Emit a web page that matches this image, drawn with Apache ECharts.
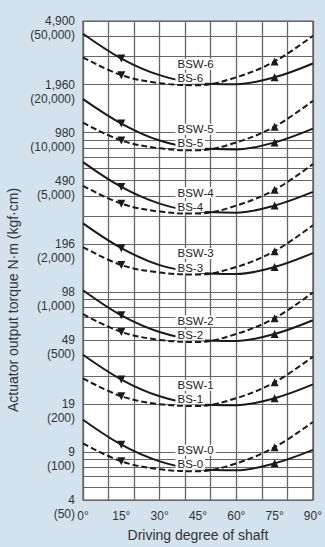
<!DOCTYPE html>
<html><head><meta charset="utf-8">
<script src="https://cdn.jsdelivr.net/npm/echarts@6/dist/echarts.min.js"></script>
<style>html,body{margin:0;padding:0;background:#d4e2ee}#c{width:325px;height:547px}</style>
</head><body><div id="c"></div>
<script>
// ---- data ----
const degrees = [0, 15, 30, 45, 60, 75, 90];
const xTickLabels = [0, 15, 30, 45, 60, 75, 90];
const xGridValues = [0, 10, 20, 30, 40, 50, 60, 70, 80, 90];
const yLabelValues = [50, 100, 200, 500, 1000, 2000, 5000, 10000, 20000, 50000];
const yLabelNm = ['4', '9', '19', '49', '98', '196', '490', '980', '1,960', '4,900'];
const yLabelKgf = ['(50)', '(100)', '(200)', '(500)', '(1,000)', '(2,000)', '(5,000)', '(10,000)', '(20,000)', '(50,000)'];
const yGridValues = [50, 60, 70, 80, 90, 100, 200, 300, 400, 500, 600, 700, 800, 900,
  1000, 2000, 3000, 4000, 5000, 6000, 7000, 8000, 9000, 10000, 20000, 30000, 40000, 50000];
const sizes = ['0', '1', '2', '3', '4', '5', '6'];
// solid = BSW-n, dashed = BS-n (kgf·cm)
const bsw0 = [159, 111, 87.3, 77.9, 76.7, 84.8, 103];
const bs0  = [113, 87.3, 77.9, 75.6, 84.8, 107, 154];
const bsw1 = [406, 284, 223, 199, 196, 217, 265];
const bs1  = [289, 223, 199, 194, 217, 273, 395];
const bsw2 = [1030, 717, 564, 503, 495, 548, 668];
const bs2  = [729, 564, 503, 488, 548, 688, 997];
const bsw3 = [2700, 1890, 1480, 1330, 1300, 1440, 1760];
const bs3  = [1920, 1480, 1330, 1290, 1440, 1810, 2630];
const bsw4 = [6530, 4570, 3590, 3200, 3150, 3490, 4250];
const bs4  = [4640, 3590, 3200, 3110, 3490, 4380, 6350];
const bsw5 = [16200, 11400, 8920, 7970, 7840, 8680, 10600];
const bs5  = [11550, 8920, 7970, 7740, 8680, 10900, 15800];
const bsw6 = [41600, 29100, 22900, 20400, 20100, 22200, 27100];
const bs6  = [29600, 22900, 20400, 19800, 22200, 27900, 40400];
const bswAll = [bsw0, bsw1, bsw2, bsw3, bsw4, bsw5, bsw6];
const bsAll = [bs0, bs1, bs2, bs3, bs4, bs5, bs6];

// ---- chart ----
const FONT = '"Liberation Sans", Arial, sans-serif';
const TXT = '#333';
function pairs(arr) { return degrees.map((d, i) => [d, arr[i]]); }
function markSym(v, p) { return (p.dataIndex === 1 || p.dataIndex === 5) ? 'triangle' : 'none'; }
function markRot(v, p) { return p.dataIndex === 1 ? 180 : 0; }
function tagLabel(text, coordVal, dy) {
  return {
    symbol: 'rect', symbolSize: 1, silent: true,
    itemStyle: { color: 'rgba(0,0,0,0)' },
    label: { show: true, position: 'right', distance: 0, offset: [0, dy], formatter: text,
      fontFamily: FONT, fontSize: 11.5, color: '#222', backgroundColor: '#fff', padding: [0, 2], lineHeight: 11 },
    data: [{ coord: [36, coordVal] }]
  };
}
const series = [];
sizes.forEach((s, i) => {
  series.push({
    name: 'BSW-' + s, type: 'line', smooth: 0.35, data: pairs(bswAll[i]),
    symbol: markSym, symbolRotate: markRot, symbolSize: 8, showSymbol: true,
    itemStyle: { color: '#1a1a1a' },
    lineStyle: { color: '#1a1a1a', width: 2 },
    markPoint: tagLabel('BSW-' + s, bswAll[i][3], -19), z: 3
  });
  series.push({
    name: 'BS-' + s, type: 'line', smooth: 0.35, data: pairs(bsAll[i]),
    symbol: markSym, symbolRotate: markRot, symbolSize: 8, showSymbol: true,
    itemStyle: { color: '#1a1a1a' },
    lineStyle: { color: '#1a1a1a', width: 2, type: [6, 3] },
    markPoint: tagLabel('BS-' + s, bsAll[i][3], -7), z: 3
  });
});
function yLabel(v) {
  const k = yLabelValues.findIndex(x => Math.abs(Math.log10(x) - Math.log10(v)) < 1e-6);
  return k < 0 ? '' : '\n' + yLabelNm[k] + '\n' + yLabelKgf[k];
}
const chart = echarts.init(document.getElementById('c'), null, { renderer: 'svg' });
chart.setOption({
  animation: false,
  backgroundColor: '#d4e2ee',
  grid: { left: 83, right: 8, top: 15, bottom: 47, show: true, backgroundColor: '#fff', borderColor: '#555', borderWidth: 1.2 },
  xAxis: {
    type: 'value', min: 0, max: 90,
    name: 'Driving degree of shaft', nameLocation: 'middle', nameGap: 28,
    nameTextStyle: { fontFamily: FONT, fontSize: 14, color: TXT },
    axisLine: { show: false },
    axisTick: { show: false, customValues: xGridValues },
    splitLine: { show: true, lineStyle: { color: '#666', width: 1.3 } },
    axisLabel: { customValues: xTickLabels, formatter: v => v + '°', margin: 10, fontFamily: FONT, fontSize: 12, color: TXT, showMinLabel: true, showMaxLabel: true }
  },
  yAxis: {
    type: 'log', logBase: 10, min: 50, max: 50000,
    axisLine: { show: false },
    axisTick: { show: false, customValues: yGridValues },
    splitLine: { show: true, lineStyle: { color: '#666', width: 1.1 } },
    axisLabel: { customValues: yLabelValues, formatter: yLabel, margin: 8, fontFamily: FONT, fontSize: 12, lineHeight: 14, color: TXT, align: 'right', showMinLabel: true, showMaxLabel: true }
  },
  graphic: [{
    type: 'text', x: 13, y: 300, rotation: Math.PI / 2,
    style: { text: 'Actuator output torque N·m (kgf·cm)', font: '14px "Liberation Sans", Arial, sans-serif', fill: TXT, align: 'center', verticalAlign: 'middle', textAlign: 'center', textVerticalAlign: 'middle' }
  }],
  series: series
});
</script>
</body></html>
